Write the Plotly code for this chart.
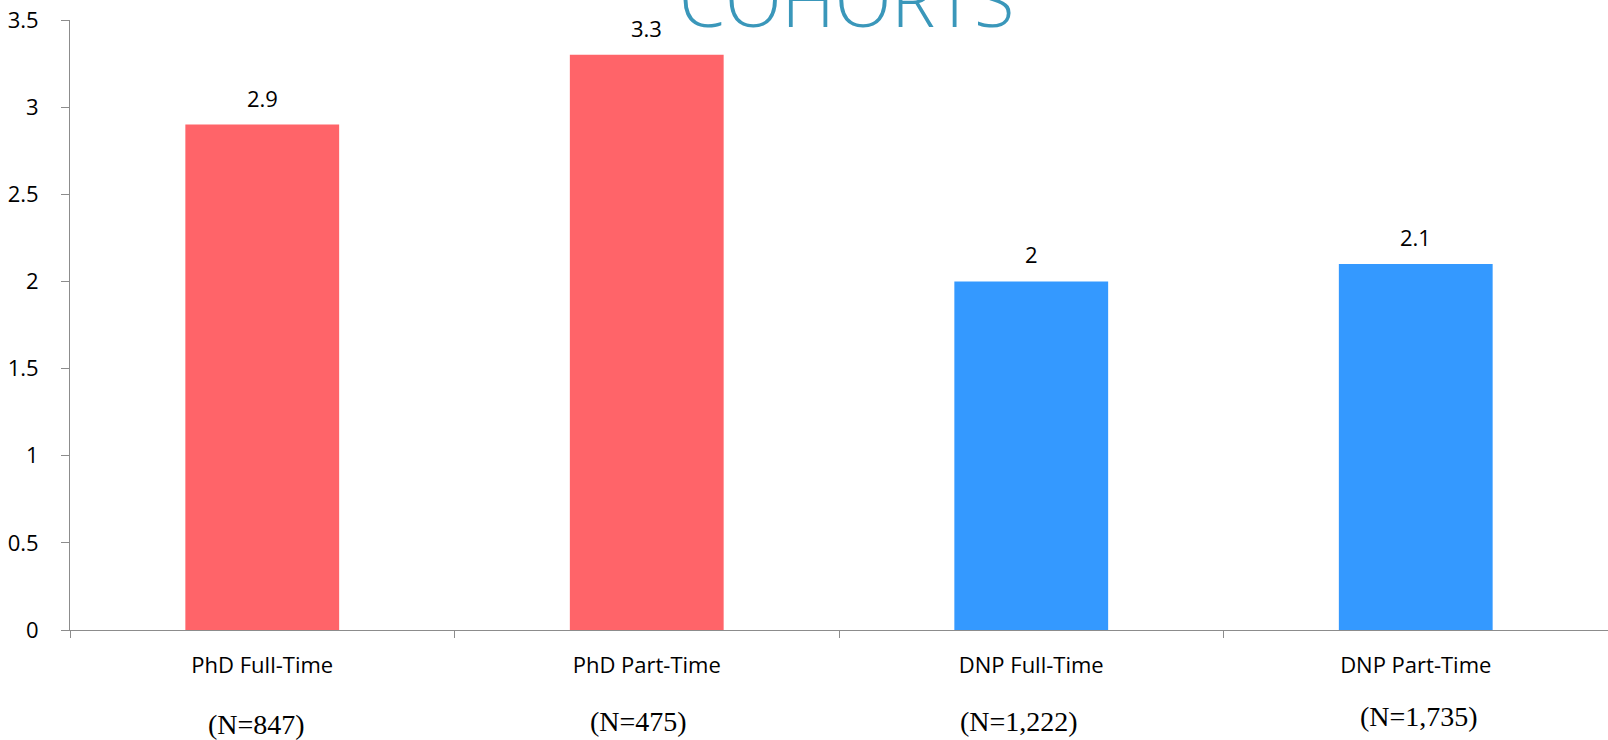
import plotly.graph_objects as go

categories = ["PhD Full-Time", "PhD Part-Time", "DNP Full-Time", "DNP Part-Time"]
values = [2.9, 3.3, 2.0, 2.1]
value_labels = ["2.9", "3.3", "2", "2.1"]
n_labels = ["(N=847)", "(N=475)", "(N=1,222)", "(N=1,735)"]
colors = ["#FF6469", "#FF6469", "#3499FF", "#3499FF"]
y_ticks = [0, 0.5, 1, 1.5, 2, 2.5, 3, 3.5]
y_tick_text = ["0", "0.5", "1", "1.5", "2", "2.5", "3", "3.5"]
title_text = "COHORTS"

fig = go.Figure()
fig.add_trace(go.Bar(
    x=categories, y=values, marker=dict(color=colors, line=dict(width=0)),
    width=0.4, showlegend=False, hoverinfo="skip",
))

# value labels
for c, v, t in zip(categories, values, value_labels):
    fig.add_annotation(x=c, y=v, text=t, showarrow=False, yanchor="bottom",
                       yshift=10, font=dict(family="Open Sans", size=22, color="#000000"))

# N labels (pixel offsets below the axis)
n_xshift = [-6, -8, -12, 3]
n_yshift = [-94, -91, -91, -86]
for c, t, dx, dy in zip(categories, n_labels, n_xshift, n_yshift):
    fig.add_annotation(x=c, y=0, text=t, showarrow=False, yanchor="middle",
                       yshift=dy, xshift=dx,
                       font=dict(family="Liberation Serif", size=28, color="#000000"))

fig.add_annotation(xref="paper", yref="paper", x=0.505, y=1, text=title_text,
                   showarrow=False, yanchor="bottom", yshift=-31,
                   font=dict(family="Open Sans", size=74, color="#3A97BA", weight=300))

fig.update_layout(
    width=1608, height=740,
    margin=dict(l=70, r=0, t=20, b=110),
    paper_bgcolor="white", plot_bgcolor="white",
    bargap=0.6,
    xaxis=dict(
        type="category", range=[-0.5, 3.5], showline=True, linecolor="#8C8C8C", linewidth=1,
        ticks="outside", tickson="boundaries", ticklen=7, tickcolor="#8C8C8C",
        tickfont=dict(family="Open Sans", size=22, color="#000000"),
        showgrid=False, zeroline=False, ticklabelstandoff=16,
    ),
    yaxis=dict(
        range=[0, 3.5], tickvals=y_ticks, ticktext=y_tick_text, showline=True,
        linecolor="#8C8C8C", linewidth=1, ticks="outside", ticklen=8, tickcolor="#8C8C8C",
        tickfont=dict(family="Open Sans", size=22, color="#000000"),
        showgrid=False, zeroline=False, ticklabelstandoff=18,
    ),
)

fig.write_html(
    "out.html",
    config={"displayModeBar": False},
    post_script="document.body.style.margin='0';document.body.style.overflow='hidden';",
)
